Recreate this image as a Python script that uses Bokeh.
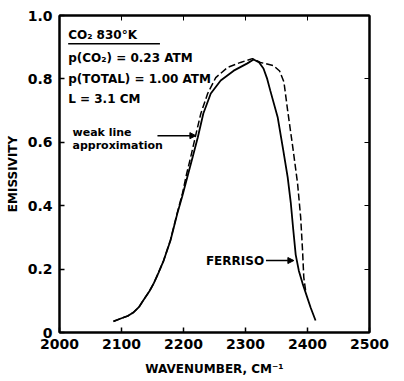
from bokeh.plotting import figure
from bokeh.models import Range1d, LinearAxis, FixedTicker, Arrow, NormalHead
from bokeh.core.properties import value
from bokeh.embed import file_html
from bokeh.resources import INLINE

# Ferriso measurement (solid)
wn_ferriso = [2087, 2100, 2110, 2119, 2128, 2135, 2145, 2152, 2160, 2168, 2179, 2190, 2198,
              2206, 2215, 2223, 2232, 2244, 2260, 2281, 2303, 2313, 2322, 2329, 2335, 2340,
              2352, 2361, 2368, 2373, 2377, 2381, 2386, 2392, 2405, 2413]
em_ferriso = [0.035, 0.045, 0.052, 0.063, 0.080, 0.101, 0.130, 0.155, 0.190, 0.227, 0.290, 0.375, 0.430,
              0.489, 0.555, 0.615, 0.691, 0.754, 0.795, 0.826, 0.849, 0.861, 0.852, 0.833, 0.800, 0.763,
              0.678, 0.574, 0.490, 0.410, 0.325, 0.245, 0.195, 0.155, 0.079, 0.038]

# Weak line approximation (dashed)
wn_weak = [2087, 2100, 2110, 2119, 2128, 2135, 2145, 2152, 2160, 2168, 2179, 2190, 2198,
           2205, 2213, 2220, 2228, 2239, 2252, 2271, 2292, 2311, 2324, 2345, 2355, 2362,
           2368, 2377, 2384, 2389, 2392, 2394, 2397]
em_weak = [0.035, 0.045, 0.052, 0.063, 0.080, 0.101, 0.130, 0.155, 0.190, 0.227, 0.292, 0.378, 0.436,
           0.500, 0.565, 0.625, 0.691, 0.754, 0.804, 0.836, 0.852, 0.864, 0.852, 0.842, 0.825, 0.790,
           0.700, 0.574, 0.470, 0.363, 0.259, 0.174, 0.132]

x_ticks = [2000, 2100, 2200, 2300, 2400, 2500]
y_ticks = [0, 0.2, 0.4, 0.6, 0.8, 1.0]
y_tick_labels = ["0", "0.2", "0.4", "0.6", "0.8", "1.0"]

info_lines = ["p(CO\u2082) = 0.23 ATM", "p(TOTAL) = 1.00 ATM", "L = 3.1 CM"]
title_line = "CO\u2082  830\u00b0K"

FONT = "DejaVu Sans"

p = figure(width=404, height=381, x_range=Range1d(2000, 2500), y_range=Range1d(0, 1.0),
           output_backend="svg", toolbar_location=None,
           min_border_left=59, min_border_right=35, min_border_top=15, min_border_bottom=49)
p.grid.visible = False
p.background_fill_color = "white"
p.border_fill_color = "white"
p.outline_line_color = "black"
p.outline_line_width = 2

for ax in (p.xaxis[0], p.yaxis[0]):
    ax.major_tick_in = 5
    ax.major_tick_out = 0
    ax.minor_tick_line_color = None
    ax.axis_line_width = 2
    ax.major_tick_line_width = 1.5
    ax.major_label_text_font = FONT
    ax.major_label_text_font_style = "bold"
    ax.major_label_text_font_size = "14px"
    ax.major_label_text_color = "black"
    ax.axis_label_text_font = FONT
    ax.axis_label_text_font_style = "bold"
    ax.axis_label_text_font_size = "12px"
    ax.axis_label_text_color = "black"

p.xaxis[0].ticker = FixedTicker(ticks=x_ticks)
p.yaxis[0].ticker = FixedTicker(ticks=y_ticks)
p.yaxis[0].major_label_overrides = {t: l for t, l in zip(y_ticks, y_tick_labels)}
p.xaxis[0].axis_label = "WAVENUMBER, CM\u207b\u00b9"
p.yaxis[0].axis_label = "EMISSIVITY"
p.xaxis[0].major_label_standoff = 6
p.yaxis[0].major_label_standoff = 7
p.xaxis[0].axis_label_standoff = 10
p.yaxis[0].axis_label_standoff = 5

right = LinearAxis(ticker=FixedTicker(ticks=y_ticks), major_label_text_color=None,
                   major_tick_in=5, major_tick_out=0, minor_tick_line_color=None, axis_line_width=2)
top = LinearAxis(ticker=FixedTicker(ticks=x_ticks), major_label_text_color=None,
                 major_tick_in=5, major_tick_out=0, minor_tick_line_color=None, axis_line_width=2)
p.add_layout(right, "right")
p.add_layout(top, "above")

p.line(wn_ferriso, em_ferriso, line_color="black", line_width=1.8)
p.line(wn_weak, em_weak, line_color="black", line_width=1.5, line_dash="7 3")

# annotation text block
tx = 2014
p.text([tx], [0.937], text=[title_line], text_font=value(FONT), text_font_style="bold",
       text_font_size="12px", text_baseline="middle", text_color="black")
p.segment(x0=[tx], y0=[0.911], x1=[2162], y1=[0.911], line_color="black", line_width=1.5)
p.text([tx] * 3, [0.867, 0.801, 0.738], text=info_lines, text_font=value(FONT),
       text_font_style="bold", text_font_size="12px", text_baseline="middle", text_color="black")

p.text([2021, 2021], [0.630, 0.589], text=["weak line", "approximation"], text_font=value(FONT),
       text_font_style="bold", text_font_size="11px", text_baseline="middle", text_color="black")
p.add_layout(Arrow(end=NormalHead(size=6, fill_color="black", line_color="black"),
                   x_start=2158, y_start=0.621, x_end=2220, y_end=0.621,
                   line_color="black", line_width=1.5))

p.text([2330], [0.227], text=["FERRISO"], text_font=value(FONT), text_font_style="bold",
       text_font_size="12px", text_baseline="middle", text_align="right", text_color="black")
p.add_layout(Arrow(end=NormalHead(size=6, fill_color="black", line_color="black"),
                   x_start=2333, y_start=0.227, x_end=2378, y_end=0.227,
                   line_color="black", line_width=1.5))

open("out.html", "w").write(file_html(p, INLINE))
